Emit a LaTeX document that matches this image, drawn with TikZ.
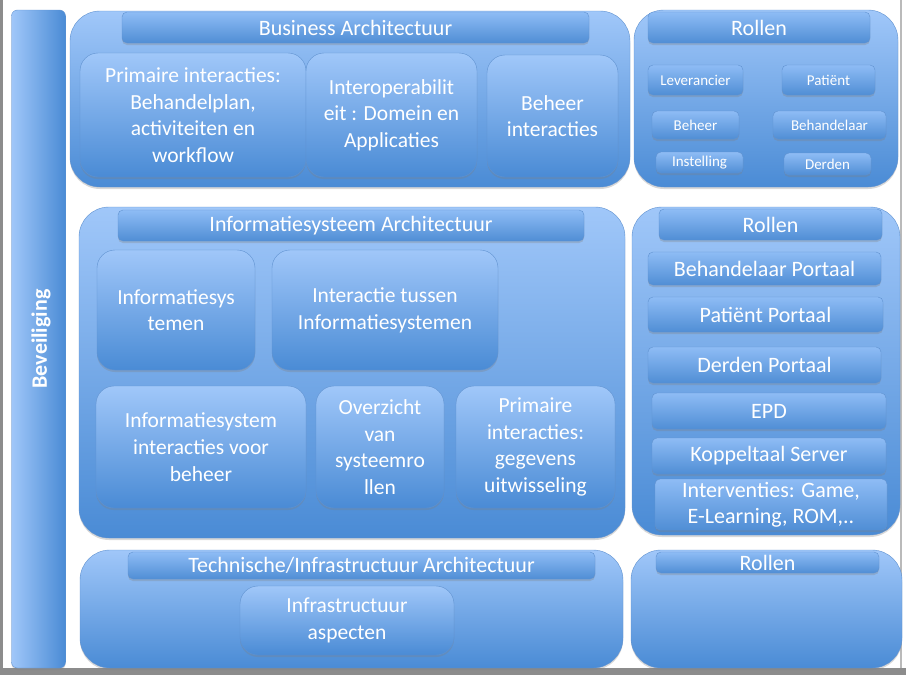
\documentclass[tikz,border=0pt]{standalone}
\usepackage{fontspec}
\setmainfont{Carlito}
\usetikzlibrary{shadows}

\definecolor{boxtop}{RGB}{160,199,249}
\definecolor{boxbot}{RGB}{74,139,213}
\definecolor{boxedge}{RGB}{96,146,208}
\definecolor{bartop}{RGB}{142,188,245}
\definecolor{barbot}{RGB}{80,142,213}
\definecolor{framegray}{RGB}{140,140,140}

\tikzstyle{layer} = [draw=boxedge, rounded corners=30pt, top color=boxtop, bottom color=boxbot, drop shadow={opacity=0.3, shadow xshift=0pt, shadow yshift=-2pt}]
\tikzstyle{item} = [layer, rounded corners=18pt, text=white, align=center, inner sep=1pt, font=\fontsize{21.5}{26.7}\selectfont]
\tikzstyle{bar} = [item, rounded corners=5pt, top color=bartop, bottom color=barbot, font=\fontsize{22}{26}\selectfont]
\tikzstyle{role} = [bar, font=\fontsize{15}{17}\selectfont]

\begin{document}
\begin{tikzpicture}[x=1pt, y=-1pt]
    \useasboundingbox (0,0) rectangle (906,675);
    % Frame
    \fill [white] (0,0) rectangle (906,675);
    \fill [framegray] (0,0) rectangle (3,675);
    \fill [framegray] (0,668) rectangle (906,675);
    \fill [framegray!60] (900,0) rectangle (901.5,668);

    % Place nodes
    \node [layer, rounded corners=6pt, left color=boxtop, right color=boxbot, minimum width=54pt, minimum height=658pt] (beveiliging) at (38.5,339) {};
    \node [rotate=90, text=white, font=\bfseries\fontsize{22}{26}\selectfont] (beveiliging_text) at (41,339) {Beveiliging};

    % Business
    \node [layer, minimum width=560pt, minimum height=176pt] (business) at (350,99) {};
    \node [bar, minimum width=467pt, minimum height=31pt] (business_title) at (355.5,27.5) {Business Architectuur};
    \node [item, minimum width=226pt, minimum height=124pt] (primair) at (193,115) {Primaire interacties:\\Behandelplan,\\activiteiten en\\workflow};
    \node [item, minimum width=171pt, minimum height=124pt] (interop) at (391.5,115) {Interoperabilit\\eit : Domein en\\Applicaties};
    \node [item, minimum width=131pt, minimum height=122pt] (beheer) at (552.5,116) {Beheer\\interacties};

    \node [layer, minimum width=264pt, minimum height=177pt] (rollen_bus) at (766,98.5) {};
    \node [bar, minimum width=222pt, minimum height=31pt] (rollen_bus_title) at (759,27.5) {Rollen};
    \node [role, minimum width=95pt, minimum height=30pt] (leverancier) at (695.5,80) {Leverancier};
    \node [role, minimum width=93pt, minimum height=30pt] (patient) at (828.5,80) {Patiënt};
    \node [role, minimum width=87pt, minimum height=28pt] (beheerder) at (695.5,125) {Beheer};
    \node [role, minimum width=113pt, minimum height=28pt] (behandelaar) at (829.5,125) {Behandelaar};
    \node [role, minimum width=87pt, minimum height=21pt] (instelling) at (699.5,162.5) {Instelling};
    \node [role, minimum width=87pt, minimum height=22pt] (derden) at (827.5,164) {Derden};

    % Informatiesysteem
    \node [layer, minimum width=546pt, minimum height=331pt] (info) at (352,372.5) {};
    \node [bar, minimum width=466pt, minimum height=31pt] (info_title) at (351,225.5) {Informatiesysteem Architectuur};
    \node [item, minimum width=158pt, minimum height=120pt] (systemen) at (176,310) {Informatiesys\\temen};
    \node [item, minimum width=226pt, minimum height=120pt] (interactie) at (385,310) {Interactie tussen\\Informatiesystemen};
    \node [item, minimum width=210pt, minimum height=122pt] (sys_beheer) at (201,447) {Informatiesystem\\interacties voor\\beheer};
    \node [item, minimum width=128pt, minimum height=122pt] (overzicht) at (380,447) {Overzicht\\van\\systeemro\\llen};
    \node [item, minimum width=159pt, minimum height=122pt] (uitwisseling) at (535.5,447) {Primaire\\interacties:\\gegevens\\uitwisseling};

    \node [layer, minimum width=268pt, minimum height=328pt] (rollen_info) at (766,371) {};
    \node [bar, minimum width=223pt, minimum height=31pt] (rollen_info_title) at (770.5,224.5) {Rollen};
    \node [bar, minimum width=233pt, minimum height=33pt] (portaal_beh) at (764.5,268.5) {Behandelaar Portaal};
    \node [bar, minimum width=235pt, minimum height=35pt] (portaal_pat) at (765.5,314.5) {Patiënt Portaal};
    \node [bar, minimum width=233pt, minimum height=36pt] (portaal_der) at (764.5,365) {Derden Portaal};
    \node [bar, minimum width=234pt, minimum height=36pt] (epd) at (769,411) {EPD};
    \node [bar, minimum width=234pt, minimum height=36pt] (koppeltaal) at (769,456) {Koppeltaal Server};
    \node [bar, minimum width=232pt, minimum height=51pt] (interventies) at (771,504.5) {Interventies: Game,\\E-Learning, ROM,..};

    % Technische/Infrastructuur
    \node [layer, minimum width=543pt, minimum height=118pt] (tech) at (351.5,609) {};
    \node [bar, minimum width=467pt, minimum height=27pt] (tech_title) at (361.5,565.5) {Technische/Infrastructuur Architectuur};
    \node [item, minimum width=214pt, minimum height=69pt] (infra) at (347,620.5) {Infrastructuur\\aspecten};

    \node [layer, minimum width=271pt, minimum height=118pt] (rollen_tech) at (766.5,609) {};
    \node [bar, minimum width=223pt, minimum height=21pt] (rollen_tech_title) at (767.5,562.5) {Rollen};
\end{tikzpicture}
\end{document}
